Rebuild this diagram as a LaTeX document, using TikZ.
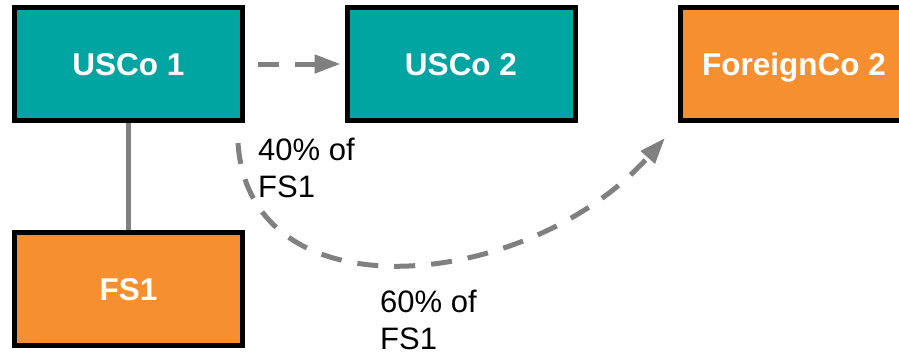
\documentclass[tikz,border=0pt]{standalone}
\usepackage{fontspec}
\setmainfont{Liberation Sans}
\usetikzlibrary{arrows.meta,calc}
\definecolor{usteal}{RGB}{0,164,161}
\definecolor{orangebox}{RGB}{246,143,48}
\definecolor{linkgray}{RGB}{128,128,128}
\tikzset{
  entity/.style={draw=black, line width=5pt, minimum width=228pt, minimum height=113pt,
    inner sep=0pt, text=white, text height=22.5pt, text depth=0pt,
    font=\bfseries\fontsize{31.5}{37}\selectfont},
  usbox/.style={entity, fill=usteal},
  foreignbox/.style={entity, fill=orangebox},
  owner/.style={draw=linkgray, line width=4.5pt},
  transfer/.style={draw=linkgray, line width=5pt, dash pattern=on 21pt off 16pt,
    -{Triangle[length=26pt,width=18pt]}},
  share/.style={anchor=north west, inner sep=0pt, align=left,
    font=\fontsize{31}{37}\selectfont}
}
\begin{document}
\begin{tikzpicture}[x=1pt, y=-1pt]
  \useasboundingbox (0,0) rectangle (899,356);

  % entities
  \node[usbox] (u1) at (128.5,64) {USCo 1};
  \node[usbox] (u2) at (461,64) {USCo 2};
  \node[foreignbox] (f2) at (794,64) {ForeignCo 2};
  \node[foreignbox] (fs1) at (128.5,289) {FS1};

  % ownership
  \draw[owner] (u1) -- (fs1);

  % transfers
  \draw[transfer, shorten <=13pt, shorten >=4pt] (u1.east) -- (u2.west);
  \coordinate (cs) at ([xshift=-7pt,yshift=-20pt]u1.south east);
  \coordinate (ce) at ([xshift=-12.5pt,yshift=-15pt]f2.south west);
  \draw[transfer] (cs) .. controls ($(cs)+(12,177)$) and ($(ce)+(-135,152)$) .. (ce);

  % shares
  \node[share] (s40) at (258,138) {40\% of\\FS1};
  \node[share] (s60) at (380,290) {60\% of\\FS1};
\end{tikzpicture}
\end{document}
